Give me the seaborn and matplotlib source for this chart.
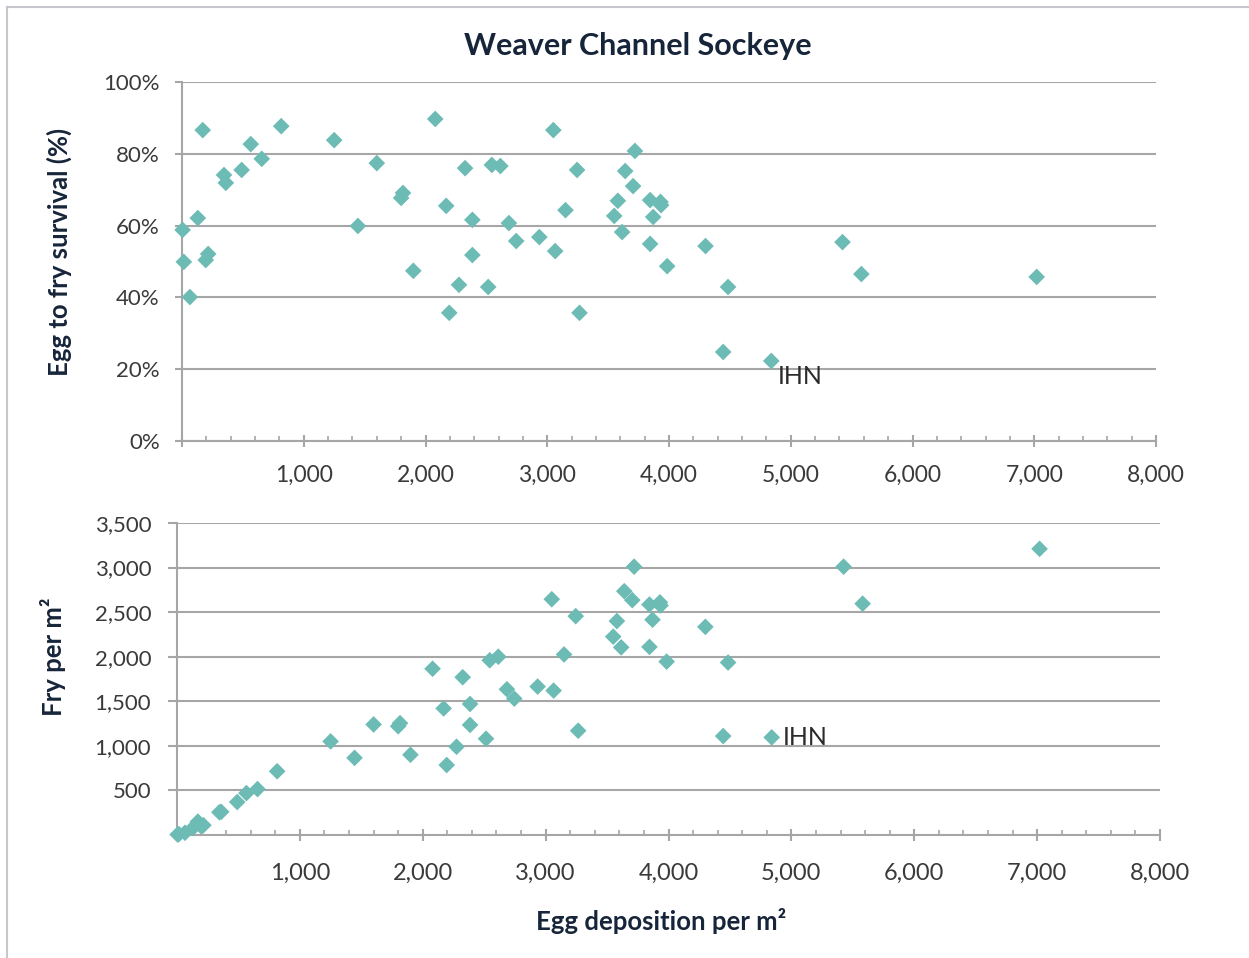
"""
Weaver Channel Sockeye - egg to fry survival and fry density
against egg deposition, two stacked scatter panels.
"""

import numpy as np
import pandas as pd
import matplotlib
matplotlib.use("Agg")
import matplotlib.pyplot as plt
import matplotlib.ticker as mticker
from matplotlib.patches import Rectangle
import seaborn as sns

# ===========================================================
# Data
# ===========================================================
egg = [5, 15, 65, 130, 170, 195, 215, 345, 360, 490, 565, 655, 815, 1250,
       1445, 1600, 1800, 1815, 1900, 2080, 2170, 2195, 2275, 2325, 2385, 2385,
       2515, 2545, 2615, 2685, 2745, 2935, 3050, 3065, 3150, 3245, 3265, 3550,
       3580, 3615, 3640, 3705, 3720, 3845, 3845, 3870, 3930, 3935, 3985, 4300,
       4445, 4485, 4840, 5425, 5580, 7020]

survival = [58.8, 49.9, 40.1, 62.1, 86.6, 50.4, 52.1, 74.1, 71.9, 75.5, 82.7,
            78.6, 87.7, 83.8, 59.9, 77.4, 67.7, 69.1, 47.4, 89.7, 65.5, 35.7,
            43.5, 76.0, 61.6, 51.8, 42.9, 76.9, 76.6, 60.7, 55.7, 56.8, 86.6,
            52.9, 64.3, 75.5, 35.7, 62.7, 66.9, 58.2, 75.2, 71.0, 80.8, 67.1,
            54.9, 62.4, 66.6, 65.7, 48.7, 54.3, 24.8, 42.9, 22.3, 55.4, 46.5,
            45.7]

fry = [5, 10, 25, 80, 150, 100, 110, 255, 260, 370, 470, 515, 715, 1050, 865,
       1240, 1220, 1255, 900, 1865, 1420, 785, 990, 1770, 1470, 1235, 1080,
       1960, 2000, 1635, 1530, 1665, 2645, 1620, 2025, 2455, 1170, 2225, 2400,
       2105, 2735, 2635, 3010, 2585, 2110, 2415, 2610, 2575, 1945, 2335, 1110,
       1935, 1095, 3010, 2595, 3210]

ihn_label = "IHN"
ihn_index = 52

x_ticks = [0, 1000, 2000, 3000, 4000, 5000, 6000, 7000, 8000]
surv_ticks = [0, 20, 40, 60, 80, 100]
fry_ticks = [500, 1000, 1500, 2000, 2500, 3000, 3500]

df = pd.DataFrame({"egg": egg, "survival": survival, "fry": fry})

# ===========================================================
# Style
# ===========================================================
TEAL = "#6CBBB5"
GRID = "#A6A6A6"
TICK_TXT = "#3A3A3A"
NAVY = "#17253A"

sns.set_theme(style="white")
plt.rcParams['font.family'] = ['Lato', 'DejaVu Sans']

W, H = 1249, 958
fig = plt.figure(figsize=(W / 100, H / 100), dpi=100)
ax1 = fig.add_axes([182 / W, 1 - 441 / H, (1156 - 182) / W, (441 - 82) / H])
ax2 = fig.add_axes([177 / W, 1 - 835 / H, (1160 - 177) / W, (835 - 523) / H])


def style_axis(ax, xpad, xsize, ylen, ypad):
    for side in ("top", "right"):
        ax.spines[side].set_visible(False)
    for side in ("left", "bottom"):
        ax.spines[side].set_color(GRID)
        ax.spines[side].set_linewidth(1.5)
    ax.yaxis.grid(True, color=GRID, linewidth=1.5)
    ax.xaxis.grid(False)
    ax.set_axisbelow(True)

    ax.set_xlim(0, 8000)
    ax.set_xticks(x_ticks)
    ax.xaxis.set_major_formatter(
        mticker.FuncFormatter(lambda v, p: "" if v == 0 else f"{v:,.0f}"))
    ax.xaxis.set_minor_locator(mticker.MultipleLocator(200))
    ax.tick_params(axis="x", which="major", direction="inout", length=9,
                   width=1.5, color=GRID, pad=xpad, labelsize=xsize,
                   labelcolor=TICK_TXT, bottom=True)
    ax.tick_params(axis="x", which="minor", direction="in", length=3.5,
                   width=1.2, color=GRID, bottom=True)
    ax.tick_params(axis="y", which="major", direction="out", length=ylen,
                   width=1.5, color=GRID, pad=ypad, labelsize=16,
                   labelcolor=TICK_TXT, left=True)


# ===========================================================
# Top panel: survival
# ===========================================================
sns.scatterplot(data=df, x="egg", y="survival", ax=ax1, marker="D", s=72,
                color=TEAL, edgecolor="none", clip_on=False, zorder=3)
style_axis(ax1, xpad=12.5, xsize=16.5, ylen=5, ypad=11)
ax1.set_ylim(0, 100)
ax1.set_yticks(surv_ticks)
ax1.yaxis.set_major_formatter(mticker.FuncFormatter(lambda v, p: f"{v:.0f}%"))
ax1.set_xlabel("")
ax1.set_ylabel("Egg to fry survival (%)", fontsize=18.5, fontweight="bold",
               color=NAVY)
ax1.yaxis.set_label_coords(-0.113, 0.526)
ax1.annotate(ihn_label, xy=(egg[ihn_index], survival[ihn_index]),
             xytext=(5, -11), textcoords="offset points", ha="left",
             va="center", fontsize=18, color="#2B2B2B")

# ===========================================================
# Bottom panel: fry per m2
# ===========================================================
sns.scatterplot(data=df, x="egg", y="fry", ax=ax2, marker="D", s=72,
                color=TEAL, edgecolor="none", clip_on=False, zorder=3)
style_axis(ax2, xpad=15.5, xsize=17, ylen=6.5, ypad=12)
ax2.set_ylim(0, 3500)
ax2.set_yticks(fry_ticks)
ax2.yaxis.set_major_formatter(mticker.FuncFormatter(lambda v, p: f"{v:,.0f}"))
ax2.set_xlabel("Egg deposition per m²", fontsize=18.5, fontweight="bold",
               color=NAVY)
ax2.xaxis.set_label_coords(0.492, -0.235)
ax2.set_ylabel("Fry per m²", fontsize=18.5, fontweight="bold", color=NAVY)
ax2.yaxis.set_label_coords(-0.113, 0.57)
ax2.annotate(ihn_label, xy=(egg[ihn_index], fry[ihn_index]),
             xytext=(8, 0), textcoords="offset points", ha="left",
             va="center", fontsize=18, color="#2B2B2B")

# ===========================================================
# Title + outer frame
# ===========================================================
fig.text(638 / W, 1 - 46 / H, "Weaver Channel Sockeye", ha="center",
         va="center", fontsize=22, fontweight="bold", color=NAVY)
fig.add_artist(Rectangle((7 / W, -0.05), 1.2, 1 - 7 / H + 0.05,
                         transform=fig.transFigure, fill=False,
                         edgecolor="#C6C6CC", linewidth=1.5))

fig.savefig("out.png", dpi=100)
plt.close(fig)
